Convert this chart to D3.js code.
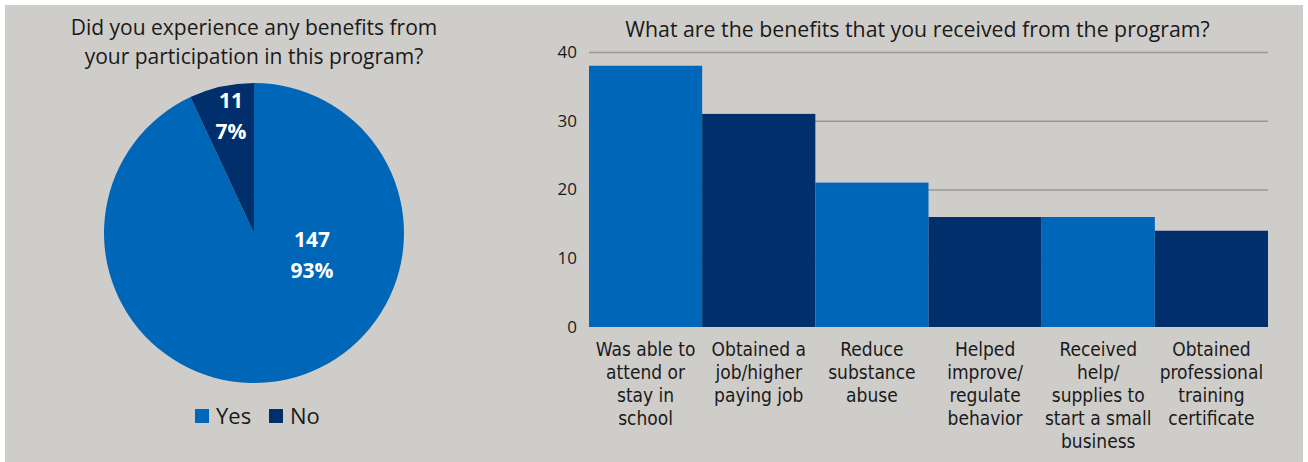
<!DOCTYPE html>
<html>
<head>
<meta charset="utf-8">
<script src="https://cdn.jsdelivr.net/npm/d3@7"></script>
<style>
  body { margin: 0; background: #fff; }
  svg { display: block; }
  text { font-family: "Open Sans", sans-serif; fill: #1a1a1a; }
  .cat { font-family: "Liberation Sans Narrow", "DejaVu Sans Condensed", sans-serif; font-size: 19px; }
</style>
</head>
<body>
<div id="canvas"></div>
<script>
// pie data
const pieLabels = ["Yes", "No"];
const pieValues = [147, 11];
const piePercents = ["93%", "7%"];

// bar data
const categories = [
    ["Was able to", "attend or", "stay in", "school"],
    ["Obtained a", "job/higher", "paying job"],
    ["Reduce", "substance", "abuse"],
    ["Helped", "improve/", "regulate", "behavior"],
    ["Received", "help/", "supplies to", "start a small", "business"],
    ["Obtained", "professional", "training", "certificate"]
];
const barValues = [38, 31, 21, 16, 16, 14];
const yTicks = [0, 10, 20, 30, 40];

const W = 1308, H = 462;
const colorArr = ["#0066b8", "#002f6c"];

const svg = d3.select('#canvas').append('svg')
    .attr('width', W)
    .attr('height', H);

svg.append('rect')
    .attr('x', 5).attr('y', 5)
    .attr('width', 1298).attr('height', H - 5)
    .attr('fill', '#cfcdca');

// ---- pie ----
const cx = 254, cy = 233, r = 150;
const pie = d3.pie().sort(null).value(d => d)
    .startAngle(0).endAngle(2 * Math.PI);
const arcs = pie(pieValues);
const arc = d3.arc().innerRadius(0).outerRadius(r);

const pg = svg.append('g').attr('transform', `translate(${cx},${cy})`);
pg.selectAll('path').data(arcs)
    .enter().append('path')
    .attr('d', arc)
    .attr('fill', (d, i) => colorArr[i]);

const labelPos = [[58, 14], [-23, -125]];
pg.selectAll('g.lbl').data(arcs)
    .enter().append('g')
    .attr('class', 'lbl')
    .each(function(d, i) {
        const g = d3.select(this);
        g.append('text')
            .attr('x', labelPos[i][0]).attr('y', labelPos[i][1])
            .attr('text-anchor', 'middle')
            .style('fill', '#fff').style('font-weight', 'bold').style('font-size', '21px')
            .text(pieValues[i]);
        g.append('text')
            .attr('x', labelPos[i][0]).attr('y', labelPos[i][1] + 31)
            .attr('text-anchor', 'middle')
            .style('fill', '#fff').style('font-weight', 'bold').style('font-size', '21px')
            .text(piePercents[i]);
    });

svg.append('text')
    .attr('x', cx).attr('text-anchor', 'middle')
    .style('font-size', '21px')
    .selectAll('tspan')
    .data(["Did you experience any benefits from", "your participation in this program?"])
    .enter().append('tspan')
    .attr('x', cx)
    .attr('y', (d, i) => 35 + i * 29)
    .text(d => d);

// legend
const legX = [195, 269];
const leg = svg.selectAll('g.leg').data(pieLabels)
    .enter().append('g')
    .attr('class', 'leg')
    .attr('transform', (d, i) => `translate(${legX[i]},409)`);
leg.append('rect').attr('width', 14).attr('height', 14)
    .attr('fill', (d, i) => colorArr[i]);
leg.append('text').attr('x', 21).attr('y', 15)
    .style('font-size', '22px')
    .text(d => d);

// ---- bars ----
const x0 = 589, x1 = 1268, yTop = 52, yBot = 327;
const xScale = d3.scaleBand()
    .domain(d3.range(barValues.length))
    .range([x0, x1])
    .padding(0);
const yScale = d3.scaleLinear()
    .domain([0, 40])
    .range([yBot, yTop]);

svg.append('text')
    .attr('x', (x0 + x1) / 2 - 11).attr('y', 37)
    .attr('text-anchor', 'middle')
    .style('font-size', '21.3px')
    .text('What are the benefits that you received from the program?');

const yAxis = d3.axisLeft(yScale).tickValues(yTicks).tickSize(-(x1 - x0)).tickPadding(12);
const ga = svg.append('g').attr('transform', `translate(${x0},0)`).call(yAxis);
ga.select('.domain').remove();
ga.selectAll('.tick line').attr('stroke', '#999').attr('stroke-width', 1.3)
    .attr('opacity', d => d === 0 ? 0 : 1);
ga.selectAll('.tick text')
    .style('font-family', '"Open Sans", sans-serif')
    .style('font-size', '17px')
    .style('fill', '#1a1a1a');

svg.selectAll('rect.bar').data(barValues)
    .enter().append('rect')
    .attr('class', 'bar')
    .attr('x', (d, i) => xScale(i))
    .attr('width', xScale.bandwidth())
    .attr('y', d => yScale(d))
    .attr('height', d => yBot - yScale(d))
    .attr('fill', (d, i) => colorArr[i % 2]);

svg.selectAll('text.cat').data(categories)
    .enter().append('text')
    .attr('class', 'cat')
    .attr('text-anchor', 'middle')
    .each(function(lines, i) {
        d3.select(this).selectAll('tspan').data(lines)
            .enter().append('tspan')
            .attr('x', xScale(i) + xScale.bandwidth() / 2)
            .attr('y', (d, j) => 356 + j * 23)
            .text(d => d);
    });
</script>
</body>
</html>
